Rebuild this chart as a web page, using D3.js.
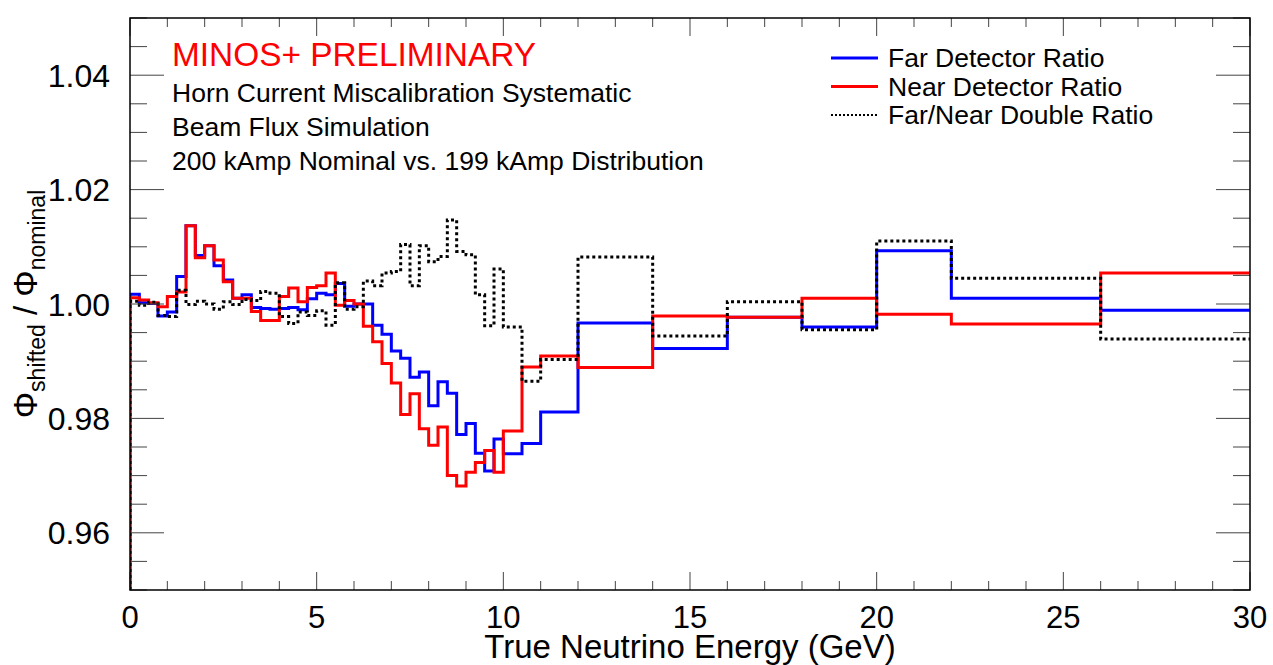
<!DOCTYPE html>
<html>
<head>
<meta charset="utf-8">
<script src="https://cdn.jsdelivr.net/npm/d3@7/dist/d3.min.js"></script>
<style>
  html, body { margin: 0; padding: 0; background: #fff; }
  svg { display: block; font-family: "Liberation Sans", Arial, Helvetica, sans-serif; }
</style>
</head>
<body>
<div id="container"></div>
<script>
// bin edges (GeV): 0.25 GeV bins up to 10, then wider ones
var binEdges = [0, 0.25, 0.5, 0.75, 1, 1.25, 1.5, 1.75, 2, 2.25, 2.5, 2.75, 3, 3.25, 3.5, 3.75,
  4, 4.25, 4.5, 4.75, 5, 5.25, 5.5, 5.75, 6, 6.25, 6.5, 6.75, 7, 7.25, 7.5, 7.75,
  8, 8.25, 8.5, 8.75, 9, 9.25, 9.5, 9.75, 10, 10.5, 11, 12, 14, 16, 18, 20, 22, 26, 30];

// far detector ratio, one value per bin
var farRatio = [1.0017, 1.0002, 1.0001, 0.9979, 0.9986, 1.0048, 1.0137, 1.0085, 1.0102, 1.0067,
  1.0042, 1.0010, 1.0016, 0.9994, 0.9992, 0.9991, 0.9992, 0.9994, 0.9990, 1.0009,
  1.0019, 1.0016, 1.0036, 0.9996, 1.0000, 1.0000, 0.9963, 0.9947, 0.9918, 0.9905,
  0.9872, 0.9881, 0.9822, 0.9864, 0.9844, 0.9772, 0.9791, 0.9739, 0.9708, 0.9764,
  0.9738, 0.9756, 0.9811, 0.9967, 0.9922, 0.9977, 0.9960, 1.0093, 1.0010, 0.9989];

// near detector ratio
var nearRatio = [1.0011, 1.0007, 1.0002, 0.9995, 1.0013, 1.0021, 1.0137, 1.0081, 1.0102, 1.0077,
  1.0039, 1.0010, 1.0010, 0.9987, 0.9971, 0.9971, 1.0013, 1.0028, 1.0004, 1.0029,
  1.0032, 1.0054, 0.9998, 1.0006, 1.0000, 0.9961, 0.9934, 0.9896, 0.9862, 0.9807,
  0.9843, 0.9782, 0.9753, 0.9785, 0.9700, 0.9682, 0.9706, 0.9723, 0.9744, 0.9706,
  0.9778, 0.9890, 0.9909, 0.9889, 0.9979, 0.9977, 1.0010, 0.9982, 0.9965, 1.0054];

// far/near double ratio
var doubleRatio = [1.0005, 0.9998, 1.0003, 0.9980, 0.9978, 1.0024, 0.9999, 1.0005, 1.0000, 0.9991,
  1.0004, 0.9999, 1.0008, 1.0006, 1.0022, 1.0019, 0.9978, 0.9966, 0.9986, 0.9980,
  0.9988, 0.9963, 1.0037, 0.9991, 0.9995, 1.0040, 1.0032, 1.0054, 1.0057, 1.0104,
  1.0032, 1.0102, 1.0074, 1.0083, 1.0147, 1.0092, 1.0086, 1.0016, 0.9962, 1.0061,
  0.9960, 0.9865, 0.9903, 1.0082, 0.9944, 1.0004, 0.9955, 1.0110, 1.0045, 0.9939];

var xTicks = [0, 5, 10, 15, 20, 25, 30];
var yTicks = [0.96, 0.98, 1.00, 1.02, 1.04];

var legendLabels = ['Far Detector Ratio', 'Near Detector Ratio', 'Far/Near Double Ratio'];
var infoLines = ['Horn Current Miscalibration Systematic', 'Beam Flux Simulation',
  '200 kAmp Nominal vs. 199 kAmp Distribution'];

var W = 1273, H = 665;
var margin = { top: 18, right: 23, bottom: 75, left: 130 };
var width = W - margin.left - margin.right,
    height = H - margin.top - margin.bottom;

var svg = d3.select('#container').append('svg')
  .attr('width', W).attr('height', H);

var x = d3.scaleLinear().domain([0, 30]).range([margin.left, margin.left + width]);
var y = d3.scaleLinear().domain([0.95, 1.05]).range([margin.top + height, margin.top]);

svg.append('clipPath').attr('id', 'plotclip')
  .append('rect')
  .attr('x', margin.left).attr('y', margin.top)
  .attr('width', width).attr('height', height);

// histogram outline: rise from the bottom at the first edge, then steps
function stepPoints(vals){
  var pts = [[binEdges[0], 0.95]];
  vals.forEach(function(v, i){
    pts.push([binEdges[i], v]);
    pts.push([binEdges[i + 1], v]);
  });
  return pts;
}

var line = d3.line()
  .x(function(d){ return x(d[0]); })
  .y(function(d){ return y(d[1]); });

var series = [
  { vals: farRatio, color: '#0000ff', width: 3, dash: null },
  { vals: nearRatio, color: '#ff0000', width: 3, dash: null },
  { vals: doubleRatio, color: '#000000', width: 3, dash: '3,3' }
];

var g = svg.append('g').attr('clip-path', 'url(#plotclip)');
series.forEach(function(s){
  g.append('path')
    .attr('d', line(stepPoints(s.vals)))
    .attr('fill', 'none')
    .attr('stroke', s.color)
    .attr('stroke-width', s.width)
    .attr('stroke-dasharray', s.dash)
    .attr('stroke-linejoin', 'miter');
});

// axes, ROOT style: ticks inward on all four sides
var tickCol = '#444';
var xMinor = d3.range(0, 31, 1);
var yMinor = d3.range(0.95, 1.0501, 0.005);

var axX = svg.append('g');
xMinor.forEach(function(t){
  var major = xTicks.indexOf(t) >= 0;
  var len = major ? 18 : 9;
  axX.append('line').attr('x1', x(t)).attr('x2', x(t))
    .attr('y1', y(0.95)).attr('y2', y(0.95) - len)
    .attr('stroke', tickCol).attr('stroke-width', 1);
  axX.append('line').attr('x1', x(t)).attr('x2', x(t))
    .attr('y1', y(1.05)).attr('y2', y(1.05) + len)
    .attr('stroke', tickCol).attr('stroke-width', 1);
});
xTicks.forEach(function(t){
  axX.append('text').attr('x', x(t)).attr('y', 628)
    .attr('text-anchor', 'middle').attr('font-size', 31).text(t);
});

var axY = svg.append('g');
yMinor.forEach(function(t){
  var major = yTicks.some(function(m){ return Math.abs(m - t) < 1e-6; });
  var len = major ? 34 : 17;
  axY.append('line').attr('y1', y(t)).attr('y2', y(t))
    .attr('x1', x(0)).attr('x2', x(0) + len)
    .attr('stroke', tickCol).attr('stroke-width', 1);
  axY.append('line').attr('y1', y(t)).attr('y2', y(t))
    .attr('x1', x(30)).attr('x2', x(30) - len)
    .attr('stroke', tickCol).attr('stroke-width', 1);
});
yTicks.forEach(function(t){
  axY.append('text').attr('x', 110).attr('y', y(t) + 11.5)
    .attr('text-anchor', 'end').attr('font-size', 32).text(d3.format('.2f')(t));
});

// frame
svg.append('rect')
  .attr('x', margin.left).attr('y', margin.top)
  .attr('width', width).attr('height', height)
  .attr('fill', 'none').attr('stroke', '#000').attr('stroke-width', 1.5);

// axis titles
svg.append('text').attr('x', x(15)).attr('y', 658)
  .attr('text-anchor', 'middle').attr('font-size', 33)
  .text('True Neutrino Energy (GeV)');

var yt = svg.append('text')
  .attr('transform', 'translate(37,' + y(1.0) + ') rotate(-90)')
  .attr('text-anchor', 'middle').attr('font-size', 33);
yt.append('tspan').text('\u03A6');
yt.append('tspan').attr('font-size', 23).attr('dy', 8).text('shifted');
yt.append('tspan').attr('dy', -8).text(' / \u03A6');
yt.append('tspan').attr('font-size', 23).attr('dy', 8).text('nominal');

// annotation text
svg.append('text').attr('x', 172).attr('y', 66)
  .attr('font-size', 33.4).attr('fill', '#ff0000').text('MINOS+ PRELIMINARY');
infoLines.forEach(function(t, i){
  svg.append('text').attr('x', 172).attr('y', 102 + i * 34)
    .attr('font-size', 26.5).attr('fill', '#000').text(t);
});

// legend
var leg = svg.append('g');
series.forEach(function(s, i){
  var ly = 58 + i * 28.5;
  leg.append('line').attr('x1', 831).attr('x2', 878)
    .attr('y1', ly).attr('y2', ly)
    .attr('stroke', s.color)
    .attr('stroke-width', s.dash ? 2.2 : 3)
    .attr('stroke-dasharray', s.dash ? '2,2' : null);
  leg.append('text').attr('x', 888).attr('y', ly + 9)
    .attr('font-size', 26.5).text(legendLabels[i]);
});
</script>
</body>
</html>
